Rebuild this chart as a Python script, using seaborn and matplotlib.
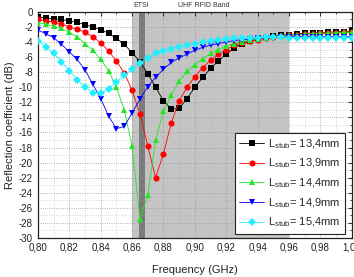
import numpy as np
import pandas as pd
import matplotlib
matplotlib.use("Agg")
import matplotlib.pyplot as plt
from matplotlib.ticker import MultipleLocator, FixedLocator, FixedFormatter
import seaborn as sns

# Frequency points (GHz), step 5 MHz
freq = [round(0.80 + 0.005 * i, 3) for i in range(41)]

s11_134 = [-0.65, -0.8, -0.9, -1.0, -1.2, -1.4, -1.7, -2.0, -2.35, -2.85,
           -3.5, -4.3, -5.4, -6.6, -8.2, -10.0, -11.8, -12.9, -12.8, -11.5,
           -10.0, -8.7, -7.5, -6.5, -5.6, -4.8, -4.2, -3.9, -3.6, -3.4,
           -3.2, -3.1, -3.0, -2.9, -2.85, -2.8, -2.75, -2.7, -2.65, -2.6, -2.55]
s11_139 = [-1.0, -1.15, -1.35, -1.6, -2.0, -2.3, -2.7, -3.3, -4.1, -5.2,
           -6.5, -8.1, -10.4, -13.5, -17.8, -22.0, -18.8, -14.7, -11.8, -10.0,
           -8.6, -7.4, -6.4, -5.6, -5.0, -4.4, -4.1, -3.9, -3.7, -3.5,
           -3.3, -3.2, -3.1, -3.0, -2.95, -2.9, -2.85, -2.8, -2.75, -2.7, -2.65]
s11_144 = [-1.45, -1.6, -1.9, -2.2, -2.7, -3.3, -4.2, -5.1, -6.3, -7.8,
           -10.0, -13.0, -17.8, -27.5, -24.3, -17.0, -13.2, -11.0, -9.2, -7.9,
           -7.0, -6.2, -5.5, -5.0, -4.5, -4.2, -3.95, -3.75, -3.55, -3.4,
           -3.25, -3.15, -3.05, -3.0, -2.95, -2.9, -2.85, -2.8, -2.75, -2.7, -2.7]
s11_149 = [-2.4, -2.9, -3.4, -4.3, -5.3, -6.3, -7.7, -9.6, -11.5, -13.8,
           -15.5, -15.2, -13.4, -11.6, -9.9, -8.7, -7.6, -6.7, -6.1, -5.6,
           -5.1, -4.7, -4.4, -4.2, -4.0, -3.8, -3.7, -3.6, -3.5, -3.45,
           -3.4, -3.35, -3.3, -3.3, -3.3, -3.3, -3.3, -3.3, -3.3, -3.3, -3.3]
s11_154 = [-3.8, -4.6, -5.5, -6.6, -7.8, -9.0, -10.0, -10.7, -10.8, -10.2,
           -9.3, -8.4, -7.6, -6.8, -6.1, -5.5, -5.2, -4.9, -4.6, -4.4,
           -4.2, -4.0, -3.85, -3.7, -3.6, -3.5, -3.45, -3.4, -3.4, -3.35,
           -3.35, -3.35, -3.4, -3.4, -3.4, -3.4, -3.4, -3.4, -3.4, -3.4, -3.4]

labels = ["$\\mathregular{L_{stub}}$= 13,4mm", "$\\mathregular{L_{stub}}$= 13,9mm",
          "$\\mathregular{L_{stub}}$= 14,4mm", "$\\mathregular{L_{stub}}$= 14,9mm",
          "$\\mathregular{L_{stub}}$= 15,4mm"]
series = [s11_134, s11_139, s11_144, s11_149, s11_154]
colors = ["#000000", "#ff0000", "#22e622", "#0000ff", "#22eeff"]
markers = ["s", "o", "^", "v", "D"]

xticks = [0.80, 0.82, 0.84, 0.86, 0.88, 0.90, 0.92, 0.94, 0.96, 0.98, 1.00]
xticklabels = ["0,80", "0,82", "0,84", "0,86", "0,88", "0,90", "0,92", "0,94", "0,96", "0,98", "1,00"]
yticks = list(range(0, -31, -2))
yticklabels = [str(v) for v in yticks]

sns.set_style("white")
plt.rcParams['font.family'] = ['Liberation Sans', 'DejaVu Sans']
plt.rcParams['mathtext.fontset'] = 'custom'
plt.rcParams['mathtext.rm'] = 'Liberation Sans'

fig = plt.figure(figsize=(3.54, 2.77), dpi=100)
ax = fig.add_axes([0.107, 0.141, 0.887, 0.816])

# shaded bands
ax.axvspan(0.86, 0.96, color="#c4c4c4", zorder=0, lw=0)
ax.axvspan(0.8645, 0.8685, color="#7a7a7a", zorder=0.1, lw=0)

for vals, lab, c, m in zip(series, labels, colors, markers):
    df = pd.DataFrame({"Frequency": freq, "S11": vals})
    ms = 4.4 if m != "D" else 3.8
    sns.lineplot(data=df, x="Frequency", y="S11", ax=ax, color=c, marker=m,
                 markersize=ms, markeredgewidth=0, linewidth=0.6, label=lab,
                 zorder=3)

ax.set_xlim(0.80, 1.00)
ax.set_ylim(-30, 0)
ax.xaxis.set_major_locator(FixedLocator(xticks))
ax.xaxis.set_major_formatter(FixedFormatter(xticklabels))
ax.yaxis.set_major_locator(FixedLocator(yticks))
ax.yaxis.set_major_formatter(FixedFormatter(yticklabels))
ax.xaxis.set_minor_locator(MultipleLocator(0.01))
ax.yaxis.set_minor_locator(MultipleLocator(1))
ax.tick_params(which="both", direction="in", top=True, right=True,
               labelsize=7, colors="#333333", labelcolor="#222222")
ax.tick_params(which="major", length=3, width=0.8)
ax.tick_params(which="minor", length=1.5, width=0.6)
ax.grid(which="major", color="#999999", linestyle=":", linewidth=0.6, zorder=0.5)
ax.grid(which="minor", color="#b0b0b0", linestyle=":", linewidth=0.4, zorder=0.5)
for sp in ax.spines.values():
    sp.set_color("#222222")
    sp.set_linewidth(0.9)

ax.set_xlabel("Frequency (GHz)", fontsize=8, labelpad=9, color="#222222")
ax.set_ylabel("Reflection coefficient (dB)", fontsize=8, labelpad=3, color="#222222")

ax.text(0.8655, 1.03, "ETSI", transform=ax.get_xaxis_transform(),
        ha="center", va="center", fontsize=5, color="#333333")
ax.text(0.889, 1.03, "UHF RFID Band", transform=ax.get_xaxis_transform(),
        ha="left", va="center", fontsize=5, color="#333333")

leg = ax.legend(loc="lower right", bbox_to_anchor=(0.978, 0.018), fontsize=8,
                frameon=True, fancybox=False, edgecolor="#222222",
                handlelength=2.2, handletextpad=0.4, labelspacing=0.55,
                borderpad=0.4, borderaxespad=0)
leg.get_frame().set_linewidth(0.8)
leg.get_frame().set_alpha(1)

plt.savefig("out.png", dpi=100)
